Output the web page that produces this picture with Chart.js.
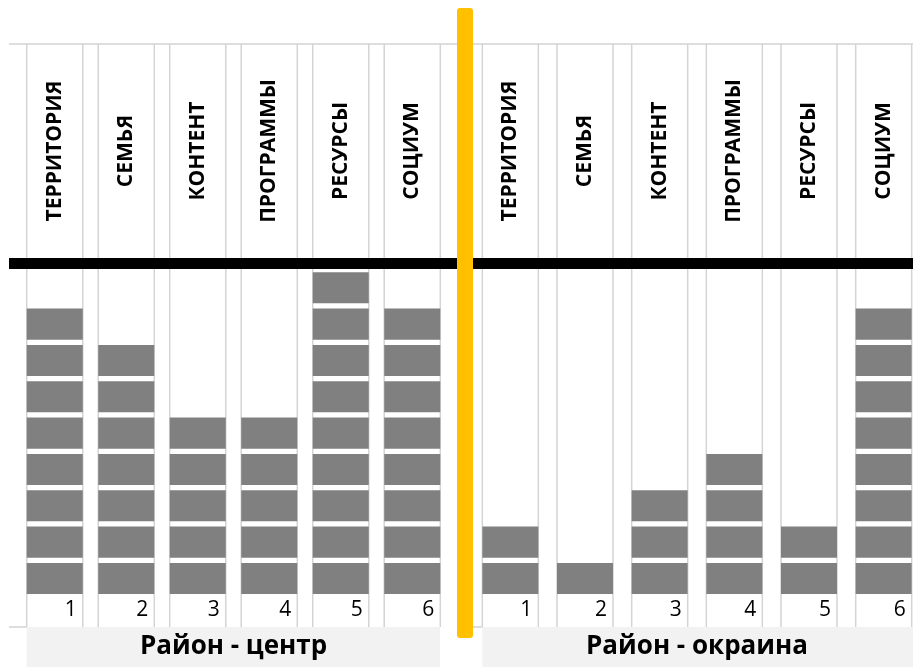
<!DOCTYPE html>
<html>
<head>
<meta charset="utf-8">
<script src="https://cdn.jsdelivr.net/npm/chart.js@4"></script>
<style>
  html, body { margin: 0; padding: 0; background: #fff; overflow: hidden; }
  #wrap { position: relative; width: 913px; height: 667px; overflow: hidden; }
  .box { position: absolute; top: 0; height: 667px; }
  #left { left: 0; width: 457px; }
  #right { left: 473px; width: 450px; }
  #divider { position: absolute; left: 457px; top: 8px; width: 16px; height: 630px;
             background: #FFC000; border-radius: 3px; }
</style>
</head>
<body>
<div id="wrap">
  <div class="box" id="left"><canvas id="center"></canvas></div>
  <div class="box" id="right"><canvas id="outskirts"></canvas></div>
  <div id="divider"></div>
</div>
<script>
// categories (written vertically above each column) and the column numbers below
const categories = ['ТЕРРИТОРИЯ', 'СЕМЬЯ', 'КОНТЕНТ', 'ПРОГРАММЫ', 'РЕСУРСЫ', 'СОЦИУМ'];
const columnNumbers = ['1', '2', '3', '4', '5', '6'];
// number of filled blocks per column
const centerValues = [8, 7, 5, 5, 9, 8];
const outskirtsValues = [2, 1, 3, 4, 2, 8];
const groupTitles = ['Район - центр', 'Район - окраина'];
const maxLevel = 9;

var BLOCK = 0.855;         // filled share of one unit row, the rest is the white gap
var TOP_LINE = 44;         // sheet top border
var BLACK_TOP = 258;       // thick black rule
var BLACK_H = 11;
var ROW_BOTTOM = 627;      // bottom of the numbers row
var GRID = '#d4d4d4';
var FONT = 'Open Sans';

// one floating-bar dataset per unit level, so each level shows as a separate block
function blockSets(values) {
  var sets = [];
  for (var k = 1; k <= maxLevel; k++) {
    sets.push({
      data: values.map(function(v) { return v >= k ? [k - 1, k - 1 + BLOCK] : null; }),
      backgroundColor: '#808080',
      borderWidth: 0
    });
  }
  return sets;
}

// spreadsheet look: grid lines, grey title band, black rule, vertical category names
var sheetPlugin = {
  id: 'sheet',
  beforeDraw: function(chart, args, o) {
    var ctx = chart.ctx, x = chart.scales.x;
    var half = x.width / categories.length * o.barPct / 2;
    var centers = categories.map(function(c, i) { return x.getPixelForValue(i); });
    ctx.save();
    ctx.fillStyle = '#fff';
    ctx.fillRect(0, 0, chart.width, chart.height);
    // title band
    var tb = chart.titleBlock;
    ctx.fillStyle = '#f2f2f2';
    ctx.fillRect(centers[0] - half, tb.top, chart.width - (centers[0] - half) - o.bandRight, chart.height - tb.top);
    ctx.strokeStyle = GRID;
    ctx.lineWidth = 1.5;
    ctx.beginPath();
    ctx.moveTo(o.lineFrom, TOP_LINE); ctx.lineTo(chart.width, TOP_LINE);
    ctx.moveTo(o.lineFrom, ROW_BOTTOM); ctx.lineTo(centers[0] - half, ROW_BOTTOM);
    centers.forEach(function(cx) {
      [cx - half, cx + half].forEach(function(px) {
        ctx.moveTo(px, TOP_LINE); ctx.lineTo(px, ROW_BOTTOM);
      });
    });
    ctx.stroke();
    ctx.restore();
  },
  afterDraw: function(chart, args, o) {
    var ctx = chart.ctx, x = chart.scales.x;
    ctx.save();
    ctx.fillStyle = '#000';
    ctx.fillRect(o.lineFrom, BLACK_TOP, chart.width - o.lineFrom, BLACK_H);
    ctx.font = 'bold 21px "' + FONT + '"';
    ctx.textAlign = 'center';
    ctx.textBaseline = 'middle';
    categories.forEach(function(name, i) {
      ctx.save();
      ctx.translate(x.getPixelForValue(i), (TOP_LINE + BLACK_TOP) / 2);
      ctx.rotate(-Math.PI / 2);
      ctx.fillText(name, 0, 0);
      ctx.restore();
    });
    ctx.restore();
  }
};

function makeChart(id, values, title, o) {
  return new Chart(document.getElementById(id), {
    type: 'bar',
    data: { labels: columnNumbers, datasets: blockSets(values) },
    options: {
      responsive: true,
      maintainAspectRatio: false,
      animation: false,
      layout: { padding: { top: 267, left: o.padLeft, right: o.padRight, bottom: 0 } },
      datasets: { bar: { grouped: false, categoryPercentage: 1, barPercentage: o.barPct } },
      scales: {
        x: {
          grid: { display: false, drawTicks: false },
          border: { display: false },
          ticks: { color: '#000', font: { family: FONT, size: 21 }, padding: 3,
                   labelOffset: 16, maxRotation: 0, autoSkip: false },
          afterFit: function(s) { s.height = 33; }
        },
        y: { display: false, min: 0, max: maxLevel }
      },
      plugins: {
        legend: { display: false },
        tooltip: { enabled: false },
        title: {
          display: true, position: 'bottom', text: title, color: '#000',
          font: { family: FONT, size: 26, weight: 'bold', lineHeight: '30px' },
          padding: { top: 5, bottom: 5 }
        },
        sheet: { barPct: o.barPct, lineFrom: o.lineFrom, bandRight: o.bandRight }
      }
    },
    plugins: [sheetPlugin]
  });
}

makeChart('center', centerValues, groupTitles[0],
  { padLeft: 19, padRight: 9, barPct: 0.784, lineFrom: 9, bandRight: 17 });
makeChart('outskirts', outskirtsValues, groupTitles[1],
  { padLeft: 0, padRight: 2, barPct: 0.75, lineFrom: 0, bandRight: 0 });
</script>
</body>
</html>
